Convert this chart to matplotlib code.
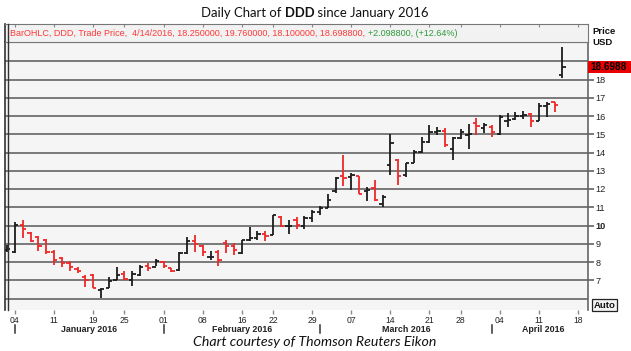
import matplotlib
matplotlib.use("Agg")
import matplotlib.pyplot as plt
import matplotlib.transforms as mtransforms
from matplotlib.lines import Line2D
import numpy as np
import pandas as pd

# ---------------- data ----------------
ticker = "DDD"
holidays = ["2016-01-01", "2016-01-18", "2016-02-15", "2016-03-25"]
axis_start, axis_end = "2015-12-31", "2016-04-20"

opens = [8.68, 8.55, 10.05, 9.60, 9.35, 9.20, 8.55, 8.20, 7.95, 7.60, 7.20,
         7.30, 6.45, 6.60, 7.00, 7.35, 7.00, 7.30, 7.80, 7.75, 8.00, 7.65,
         7.55, 8.50, 9.15, 8.85, 8.25, 8.55, 9.05, 8.90, 8.50, 9.20, 9.30,
         9.55, 9.50, 10.45, 9.95, 10.30, 9.95, 10.40, 10.75, 10.95, 11.90,
         12.70, 12.65, 12.70, 11.90, 12.05, 11.20, 13.30, 13.60, 12.75, 13.40,
         14.05, 14.60, 15.15, 15.20, 14.20, 14.80, 14.95, 15.60, 15.35, 15.40,
         15.00, 15.70, 15.85, 16.00, 16.10, 15.75, 16.55, 16.75, 18.25]
highs = [8.95, 10.20, 10.30, 9.62, 9.40, 9.25, 8.64, 8.28, 8.05, 7.70, 7.30,
         7.34, 6.60, 7.20, 7.75, 7.49, 7.50, 7.85, 7.95, 8.16, 8.04, 7.67,
         8.53, 9.36, 9.50, 8.95, 8.58, 8.67, 9.22, 9.04, 9.22, 9.90, 9.70,
         9.70, 10.60, 10.50, 10.30, 10.45, 10.50, 10.85, 11.05, 11.75, 12.65,
         13.85, 12.90, 12.72, 12.10, 12.50, 11.65, 15.00, 13.65, 13.40, 14.12,
         14.85, 15.50, 15.40, 15.35, 14.85, 15.30, 15.55, 15.88, 15.63, 15.52,
         16.03, 16.17, 16.20, 16.25, 16.17, 16.70, 16.75, 16.75, 19.76]
lows = [8.55, 8.50, 9.30, 9.10, 8.60, 8.45, 7.85, 7.70, 7.50, 7.40, 6.65,
        6.57, 6.02, 6.55, 7.00, 7.04, 6.70, 7.25, 7.49, 7.76, 7.67, 7.44,
        7.53, 8.45, 8.55, 8.31, 8.13, 7.76, 8.49, 8.40, 8.45, 9.15, 9.20,
        9.15, 9.50, 9.90, 9.55, 9.80, 9.80, 10.20, 10.60, 10.95, 11.80,
        12.15, 11.97, 11.75, 11.35, 11.35, 11.00, 12.75, 12.20, 12.65, 13.40,
        14.00, 14.50, 14.95, 14.30, 13.60, 14.75, 14.20, 14.95, 15.05, 14.86,
        14.95, 15.40, 15.76, 15.85, 15.40, 15.70, 15.95, 16.20, 18.10]
closes = [8.72, 10.05, 9.80, 9.15, 8.90, 8.55, 8.10, 7.95, 7.70, 7.50, 7.00,
          6.60, 6.50, 6.95, 7.30, 7.05, 7.35, 7.75, 7.65, 8.05, 7.80, 7.50,
          8.50, 9.15, 9.00, 8.55, 8.30, 8.10, 8.85, 8.65, 9.20, 9.30, 9.55,
          9.45, 10.55, 10.00, 10.00, 10.05, 10.40, 10.75, 10.95, 11.40, 12.60,
          12.60, 12.75, 11.75, 11.95, 11.40, 11.55, 14.50, 12.70, 13.40, 14.05,
          14.60, 15.15, 15.20, 14.40, 14.80, 15.10, 15.00, 15.45, 15.50, 15.10,
          15.95, 15.80, 16.00, 16.05, 15.70, 16.55, 16.65, 16.60, 18.6988]

grid_prices = list(range(6, 20))
label_prices = list(range(7, 19))
bold_price = 10

title_runs = [("Daily Chart of ", "normal"), (ticker, "bold"), (" since January 2016", "normal")]
credit = "Chart courtesy of Thomson Reuters Eikon"

# ---------------- layout helpers ----------------
W, H = 631, 351
fig = plt.figure(figsize=(W / 100, H / 100), dpi=100)
fig.patch.set_facecolor("white")


def fx(px):
    return px / W


def fy(py):
    return 1 - py / H


RED = "#f02828"
BLACK = "#1c1c1c"
GRID = "#6f6f6f"
SANS = ["Liberation Sans", "DejaVu Sans"]

axis_days = [d for d in pd.bdate_range(axis_start, axis_end)
             if d.strftime("%Y-%m-%d") not in holidays]
n = len(closes)
xs = np.arange(n)
o = np.array(opens)
h = np.array(highs)
l = np.array(lows)
c = np.array(closes)

px_per_day = 7.82
x0_px = 15.0  # pixel of index 1 (first trading day of 2016)


def px_to_idx(p):
    return 1 + (p - x0_px) / px_per_day


ax_left, ax_right, ax_top, ax_bottom = 5, 588, 42, 310
ax = fig.add_axes([fx(ax_left), fy(ax_bottom), fx(ax_right) - fx(ax_left),
                   fy(ax_top) - fy(ax_bottom)])
ax.set_facecolor("#f5f5f5")
ax.set_xlim(px_to_idx(ax_left), px_to_idx(ax_right))
y_per_px = 1 / 18.25
ax.set_ylim(6 - (ax_bottom - 298.5) * y_per_px, 6 + (298.5 - ax_top) * y_per_px)

for v in grid_prices:
    ax.axhline(v, color=GRID, lw=1.3, zorder=1)

up = c >= o
cols = np.where(up, BLACK, RED)
tw = 0.42
ax.vlines(xs, l, h, colors=cols, lw=1.3, zorder=3)
ax.hlines(o, xs - tw, xs, colors=cols, lw=1.3, zorder=3)
ax.hlines(c, xs, xs + tw, colors=cols, lw=1.3, zorder=3)

# spines
ax.spines["bottom"].set_visible(False)
ax.spines["top"].set_color("#666666")
ax.spines["right"].set_color("#666666")
ax.spines["left"].set_color("#333333")
ax.spines["left"].set_linewidth(1.2)
ax.spines["right"].set_linewidth(1.2)

# y axis on right
ax.yaxis.tick_right()
ax.set_yticks(label_prices)
ax.set_yticklabels([str(v) for v in label_prices])
ax.tick_params(axis="y", length=4, width=1.1, color="#555555", labelsize=6.6,
               pad=1.5, labelcolor="#222222")
for t, v in zip(ax.get_yticklabels(), label_prices):
    t.set_family(SANS)
    if v == bold_price:
        t.set_fontweight("bold")

# x ticks: first trading day of each week
week_idx = []
for i, d in enumerate(axis_days):
    if i > 0 and d.isocalendar()[1] != axis_days[i - 1].isocalendar()[1]:
        if i <= ax.get_xlim()[1]:
            week_idx.append(i)
ax.set_xticks(week_idx)
ax.set_xticklabels([axis_days[i].strftime("%d") for i in week_idx])
ax.tick_params(axis="x", length=3, width=1, color="#8a8a8a", labelsize=6.2,
               pad=1.0, labelcolor="#222222")
for t in ax.get_xticklabels():
    t.set_family(SANS)

# month separators and labels
trans_xfig = mtransforms.blended_transform_factory(ax.transData, fig.transFigure)
months = sorted(set((d.year, d.month) for d in axis_days if d.year == 2016))
xmax = ax.get_xlim()[1]
for (yy, mm) in months:
    idxs = [i for i, d in enumerate(axis_days) if d.year == yy and d.month == mm and i <= xmax]
    if not idxs:
        continue
    first = idxs[0]
    fig.add_artist(Line2D([first, first], [fy(325), fy(333)], transform=trans_xfig,
                          color="#333333", lw=1.1))
    centre = np.mean(idxs) + 0.5
    label = pd.Timestamp(year=yy, month=mm, day=1).strftime("%B %Y")
    fig.text(centre, fy(329.5), label, transform=trans_xfig, ha="center", va="center",
             fontsize=6.4, fontweight="bold", color="#222222", family=SANS)

# extra inner left line (double border)
fig.add_artist(Line2D([fx(7.6), fx(7.6)], [fy(24), fy(310)], color="#333333", lw=1.0))

# header strip
hax = fig.add_axes([fx(ax_left), fy(ax_top), fx(ax_right) - fx(ax_left), fy(24) - fy(ax_top)])
hax.set_facecolor("#f2f2f2")
hax.set_xlim(ax.get_xlim())
hax.set_ylim(0, 1)
hax.set_xticks(week_idx)
hax.set_yticks([])
hax.tick_params(axis="x", top=True, bottom=False, direction="in", length=2,
                labeltop=False, labelbottom=False, color="#888888")
for s in ["top", "bottom", "right"]:
    hax.spines[s].set_color("#777777")
hax.spines["left"].set_color("#333333")
hax.spines["left"].set_linewidth(1.2)

renderer = fig.canvas.get_renderer()


def place_runs(runs, x_px, y_px, target_w, family, base=10, ha="center", style="normal",
               colors=None):
    texts = []
    for k, (s, w) in enumerate(runs):
        col = colors[k] if colors else "#111111"
        t = fig.text(0, fy(y_px), s, fontsize=base, fontweight=w, family=family,
                     style=style, va="center", ha="left", color=col)
        texts.append(t)
    widths = [t.get_window_extent(renderer).width for t in texts]
    scale = target_w / sum(widths)
    for t in texts:
        t.set_fontsize(base * scale)
    widths = [t.get_window_extent(renderer).width for t in texts]
    total = sum(widths)
    start = x_px - total / 2 if ha == "center" else x_px
    pos = start
    for t, w in zip(texts, widths):
        t.set_x(fx(pos))
        pos += w


# title
place_runs(title_runs, 315, 13, 227, ["Lato", "DejaVu Sans"])

# header info
prev_close = closes[-2]
chg = closes[-1] - prev_close
pct = chg / prev_close * 100
date_str = axis_days[n - 1]
red_part = (f"BarOHLC, {ticker}, Trade Price,  {date_str.month}/{date_str.day}/{date_str.year}, "
            f"{opens[-1]:.6f}, {highs[-1]:.6f}, {lows[-1]:.6f}, {closes[-1]:.6f}, ")
green_part = f"{chg:+.6f}, ({pct:+.2f}%)"
place_runs([(red_part, "normal"), (green_part, "normal")], 10, 33, 447,
           SANS, ha="left", colors=["#ff3838", "#2e9a3a"])

# credit
place_runs([(credit, "normal")], 315, 342, 244, ["Lato", "DejaVu Sans"], style="italic")

# Price / USD
fig.text(fx(592.5), fy(31), "Price", fontsize=6.8, fontweight="bold", va="center",
         ha="left", color="#111111", family=SANS)
fig.text(fx(592.5), fy(42.5), "USD", fontsize=6.8, fontweight="bold", va="center",
         ha="left", color="#111111", family=SANS)

# last price box
trans_axy = mtransforms.blended_transform_factory(ax.transAxes, ax.transData)
ax.add_patch(plt.Rectangle((1.0, closes[-1] - 0.32), 0.2, 0.64, transform=trans_axy,
                           facecolor="#e80000", edgecolor="none", clip_on=False, zorder=5))
ax.text(1.004, closes[-1], f"{closes[-1]:.4f}", transform=trans_axy, fontsize=7.2,
        fontweight="bold", color="black", va="center", ha="left", clip_on=False, zorder=6,
        family=SANS)

# Auto box
fig.text(fx(593.5), fy(305), "Auto", fontsize=6.8, fontweight="bold", va="center", ha="left",
         color="#111111", family=SANS,
         bbox=dict(boxstyle="square,pad=0.12", facecolor="#f2f2f2", edgecolor="#222222", lw=0.9))

fig.savefig("out.png", dpi=100, facecolor="white")
